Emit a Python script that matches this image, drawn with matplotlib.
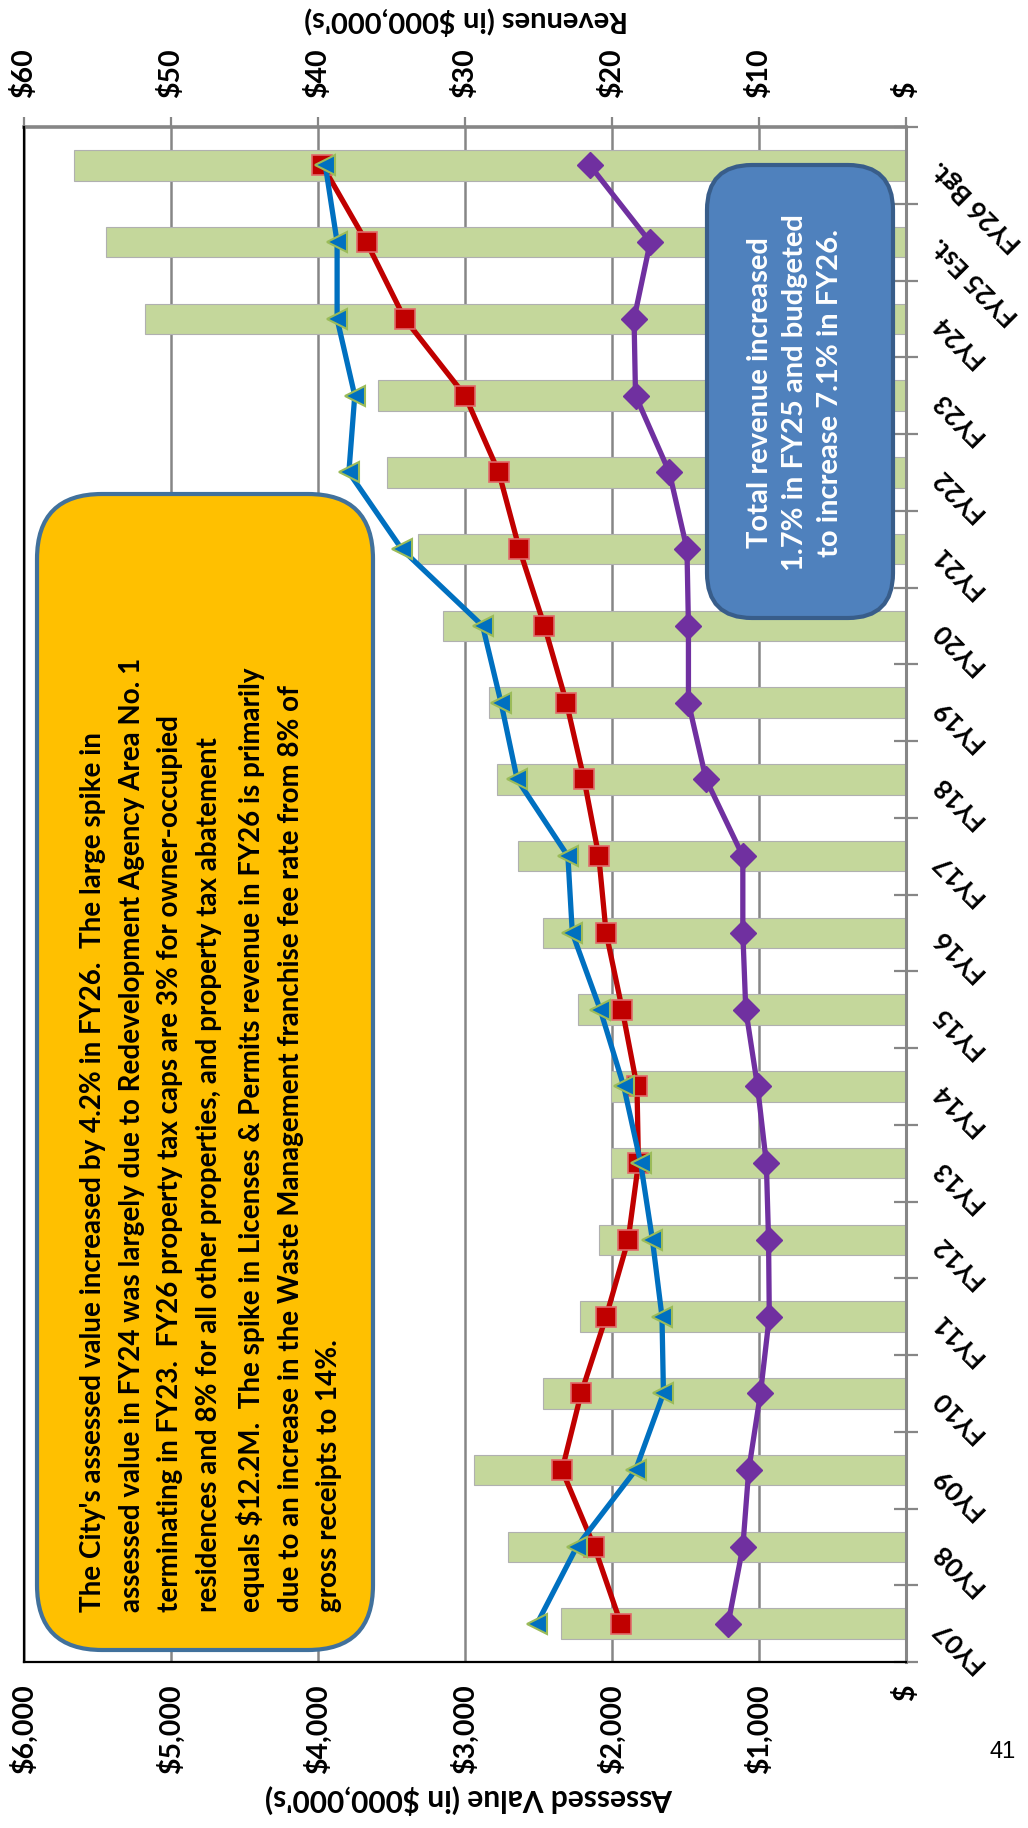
import numpy as np
import matplotlib
matplotlib.use('Agg')
import matplotlib.pyplot as plt
from matplotlib.patches import FancyBboxPatch

plt.rcParams['font.family'] = ['Lato', 'DejaVu Sans']

# data (revenues in $M, assessed value in $M)
years = ['FY07', 'FY08', 'FY09', 'FY10', 'FY11', 'FY12', 'FY13', 'FY14', 'FY15', 'FY16',
         'FY17', 'FY18', 'FY19', 'FY20', 'FY21', 'FY22', 'FY23', 'FY24', 'FY25 Est.', 'FY26 Bgt.']
total_revenue = [23.5, 27.1, 29.4, 24.7, 22.2, 20.9, 20.1, 20.1, 22.3, 24.7,
                 26.4, 27.8, 28.4, 31.5, 33.2, 35.3, 35.9, 51.8, 54.4, 56.6]
assessed_value = [2510, 2240, 1840, 1650, 1660, 1725, 1805, 1920, 2080, 2270,
                  2300, 2645, 2755, 2880, 3430, 3790, 3750, 3870, 3870, 3950]
red_revenue = [19.4, 21.2, 23.4, 22.1, 20.4, 18.9, 18.2, 18.3, 19.3, 20.4,
               20.9, 21.9, 23.1, 24.6, 26.3, 27.7, 30.0, 34.1, 36.7, 39.7]
purple_revenue = [12.1, 11.1, 10.7, 9.9, 9.3, 9.35, 9.5, 10.1, 10.9, 11.1,
                  11.1, 13.6, 14.8, 14.8, 14.9, 16.1, 18.4, 18.5, 17.4, 21.5]

av_ticks = [0, 1000, 2000, 3000, 4000, 5000, 6000]
av_tick_labels = ['\\$', '\\$1,000', '\\$2,000', '\\$3,000', '\\$4,000', '\\$5,000', '\\$6,000']
rev_ticks = [0, 10, 20, 30, 40, 50, 60]
rev_tick_labels = ['\\$', '\\$10', '\\$20', '\\$30', '\\$40', '\\$50', '\\$60']

note_orange = ("The City's assessed value increased by 4.2% in FY26.  The large spike in\n"
               "assessed value in FY24 was largely due to Redevelopment Agency Area No. 1\n"
               "terminating in FY23.  FY26 property tax caps are 3% for owner-occupied\n"
               "residences and 8% for all other properties, and property tax abatement\n"
               "equals \\$12.2M.  The spike in Licenses & Permits revenue in FY26 is primarily\n"
               "due to an increase in the Waste Management franchise fee rate from 8% of\n"
               "gross receipts to 14%.")
note_blue = ("Total revenue increased\n"
             "1.7% in FY25 and budgeted\n"
             "to increase 7.1% in FY26.")

W, H, DPI = 1028, 1828, 100
GRAY = '#868686'

fig = plt.figure(figsize=(W / DPI, H / DPI), dpi=DPI)

# plot area in pixels (from top-left)
L, R, T, B = 24, 906, 127, 1662
ax = fig.add_axes([L / W, 1 - B / H, (R - L) / W, (B - T) / H])
ax2 = ax.twiny()

ypos = np.arange(len(years))

ax2.barh(ypos, total_revenue, height=0.4, color='#C4D79B', edgecolor='#B0B0B0',
         linewidth=0.8, zorder=2)
ax2.plot(purple_revenue, ypos, color='#7030A0', lw=3.8, marker='D', ms=13,
         mfc='#7030A0', mec='#7030A0', zorder=3)
ax2.plot(red_revenue, ypos, color='#C00000', lw=3.8, marker='s', ms=15,
         mfc='#C00000', mec='#E06A6A', mew=1.2, zorder=4)
ax.plot(assessed_value, ypos, color='#0070C0', lw=3.8, marker='<', ms=15,
        mfc='#0070C0', mec='#9BBB59', mew=1.5, zorder=5)

ax.set_xlim(6000, 0)
ax2.set_xlim(60, 0)
ax.set_ylim(-0.5, len(years) - 0.5)
ax2.set_ylim(-0.5, len(years) - 0.5)

ax.set_zorder(ax2.get_zorder() + 1)
ax.patch.set_visible(False)

# bottom axis: assessed value
ax.set_xticks(av_ticks)
ax.set_xticklabels(av_tick_labels, rotation=90, fontsize=20.5, fontweight='bold')
ax.tick_params(axis='x', length=0, pad=16)

# top axis: revenues
ax2.set_xticks(rev_ticks)
ax2.set_xticklabels(rev_tick_labels, rotation=90, fontsize=20.5, fontweight='bold')
ax2.tick_params(axis='x', length=7, width=1.6, color=GRAY, pad=14)
ax2.xaxis.grid(True, color=GRAY, lw=1.8)
ax2.set_axisbelow(True)

# category axis on the right
ax.yaxis.tick_right()
ax.set_yticks(np.arange(-0.5, len(years), 1))
ax.set_yticks(ypos, minor=True)
ax.set_yticklabels(years, minor=True, fontsize=19, fontweight='bold')
ax.tick_params(axis='y', which='major', direction='inout', length=17, width=1.6,
               color=GRAY, labelright=False, labelleft=False)
ax.tick_params(axis='y', which='minor', length=0, pad=21)
for lab in ax.get_yticklabels(minor=True):
    lab.set_rotation(135)
    lab.set_rotation_mode('anchor')
    lab.set_ha('right')
    lab.set_va('center')

for s in ['left', 'bottom']:
    ax.spines[s].set_color('black')
    ax.spines[s].set_linewidth(1.6)
ax.spines['right'].set_color(GRAY)
ax.spines['right'].set_linewidth(2.2)
ax.spines['top'].set_visible(False)
for s in ['left', 'bottom', 'right']:
    ax2.spines[s].set_visible(False)
ax2.spines['top'].set_color(GRAY)
ax2.spines['top'].set_linewidth(2.6)


def inch(x, y):
    return x / DPI, (H - y) / DPI


# axis titles (upside down)
fig.text(*inch(466, 21), "Revenues (in \\$000,000's)", transform=fig.dpi_scale_trans,
         rotation=180, ha='center', va='center', fontsize=21, fontweight='bold')
fig.text(*inch(469, 1800), "Assessed Value (in \\$000,000's)", transform=fig.dpi_scale_trans,
         rotation=180, ha='center', va='center', fontsize=21.5, fontweight='bold')

# annotation boxes
box1 = FancyBboxPatch(inch(37, 1650), (373 - 37) / DPI, (1650 - 494) / DPI,
                      boxstyle='round,pad=0,rounding_size=0.65', transform=fig.dpi_scale_trans,
                      fc='#FFC000', ec='#41719C', lw=3, zorder=10)
fig.add_artist(box1)
fig.text(*inch(80, 1612), note_orange, transform=fig.dpi_scale_trans, rotation=90,
         ha='left', va='bottom', multialignment='left', fontsize=20, fontweight='bold',
         linespacing=1.6, zorder=11)

box2 = FancyBboxPatch(inch(707, 618), (893 - 707) / DPI, (618 - 165) / DPI,
                      boxstyle='round,pad=0,rounding_size=0.45', transform=fig.dpi_scale_trans,
                      fc='#4F81BD', ec='#385D8A', lw=3, zorder=10)
fig.add_artist(box2)
fig.text(*inch(795, 393), note_blue, transform=fig.dpi_scale_trans, rotation=90,
         ha='center', va='center', multialignment='center', fontsize=21, fontweight='bold',
         color='white', linespacing=1.45, zorder=11)

# page number
fig.text(*inch(1003, 1752), '41', transform=fig.dpi_scale_trans, ha='center', va='center',
         fontsize=17, family='Liberation Sans')

fig.savefig('out.png', dpi=DPI)
